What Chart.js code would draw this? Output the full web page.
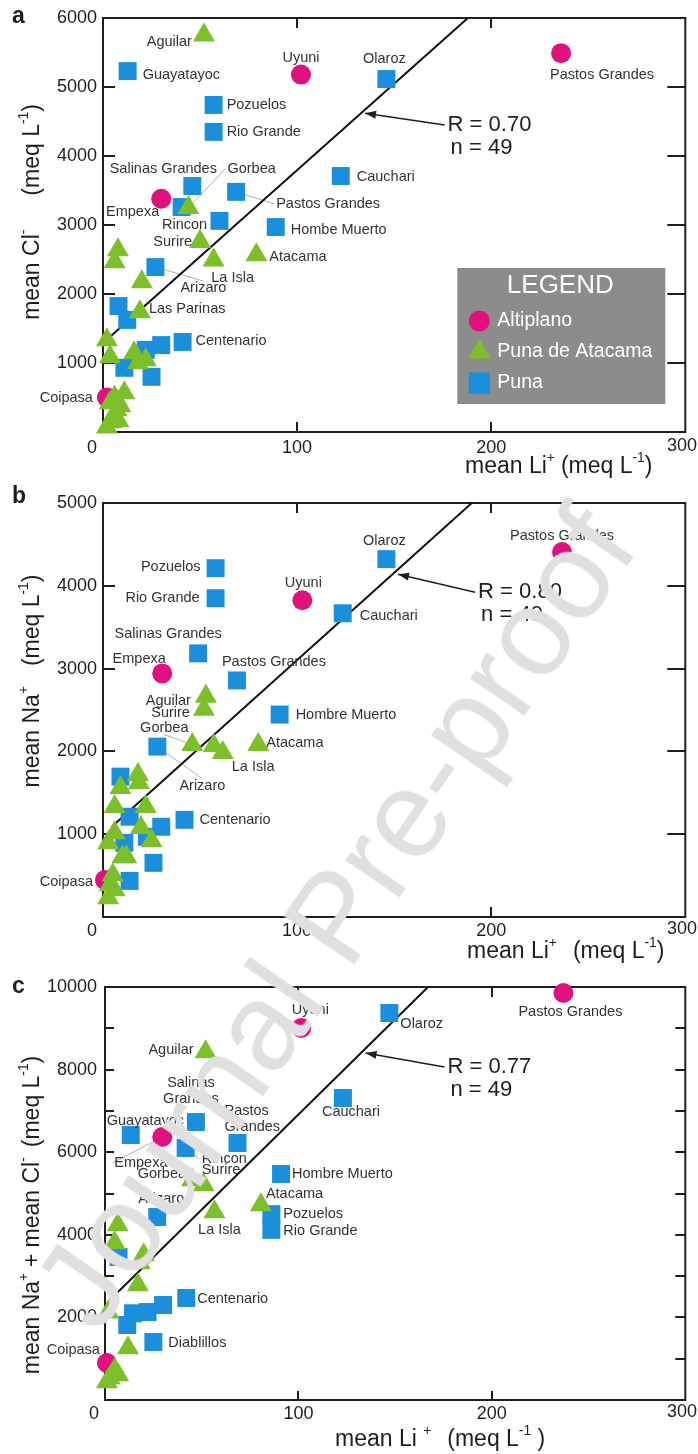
<!DOCTYPE html>
<html lang="en">
<head>
<meta charset="UTF-8">
<title>Li vs Cl / Na / Na+Cl</title>
<script src="https://cdn.jsdelivr.net/npm/chart.js"></script>
<style>
  html, body { margin: 0; padding: 0; background: #fff; }
  body { width: 698px; height: 1454px; position: relative; overflow: hidden; }
  canvas { position: absolute; left: 0; }
  #wm {
    position: absolute; left: 334px; top: 917px;
    transform: translate(-50%, -50%) rotate(-55.5deg);
    font: 124px 'Liberation Sans', Arial, sans-serif; line-height: 1;
    color: #e0e0e0; white-space: nowrap; pointer-events: none;
  }
</style>
</head>
<body>
<canvas id="chartA" width="698" height="480" style="top:0"></canvas>
<canvas id="chartB" width="698" height="490" style="top:480px"></canvas>
<canvas id="chartC" width="698" height="484" style="top:970px"></canvas>
<div id="wm">Journal Pre-proof</div>

<script>
// ---- values ----
// a) mean Cl- vs mean Li+
const altiNamesA = ['Uyuni', 'Empexa', 'Pastos Grandes', 'Coipasa'];
const altiLiA = [102, 30, 236, 2];
const altiClA = [5180, 3380, 5490, 500];

const punaNamesA = ['Guayatayoc', 'Pozuelos', 'Rio Grande', 'Salinas Grandes', 'Rincon', 'Pastos Grandes', '', 'Hombe Muerto', 'Cauchari', 'Olaroz', 'Arizaro', '', '', 'Centenario', '', '', '', ''];
const punaLiA = [12.7, 57, 57, 46, 40.5, 68.6, 60, 89, 122.5, 146, 27, 8, 12.5, 41, 30, 22, 11, 25];
const punaClA = [5230, 4740, 4350, 3565, 3260, 3480, 3060, 2970, 3710, 5115, 2390, 1825, 1625, 1305, 1260, 1190, 930, 800];

const atacNamesA = ['Aguilar', 'Gorbea', 'Surire', 'La Isla', 'Atacama', '', '', '', 'Las Parinas', '', '', '', '', '', '', '', '', '', '', '', '', '', ''];
const atacLiA = [52, 44, 50, 57, 79, 7.7, 6, 20, 19, 2, 3.6, 16, 22, 18, 11, 3.5, 7, 5, 2, 6, 9, 4, 8];
const atacClA = [5750, 3250, 2760, 2490, 2565, 2640, 2465, 2175, 1740, 1335, 1090, 1145, 1045, 1000, 565, 420, 320, 215, 70, 505, 380, 150, 160];

const fitLiA = [3.5, 188];
const fitClA = [1377, 6000];
const statsA = ['R = 0.70', 'n = 49'];

// b) mean Na+ vs mean Li+
const altiNamesB = ['Uyuni', 'Empexa', 'Pastos Grandes', 'Coipasa'];
const altiLiB = [102.7, 30.5, 236.5, 1];
const altiNaB = [3826, 2942, 4407, 448];

const punaNamesB = ['Pozuelos', 'Rio Grande', 'Salinas Grandes', 'Pastos Grandes', 'Hombre Muerto', 'Olaroz', 'Cauchari', 'Arizaro', '', '', 'Centenario', '', '', '', '', ''];
const punaLiB = [58, 58, 49, 69, 91, 146, 123.5, 28, 9, 13.7, 42, 30, 22.6, 11, 26, 13.7];
const punaNaB = [4213, 3850, 3184, 2857, 2445, 4322, 3668, 2058, 1695, 1211, 1174, 1090, 969, 896, 654, 436];

const atacNamesB = ['Aguilar', 'Surire', 'Gorbea', '', 'La Isla', 'Atacama', '', '', '', '', '', '', '', '', '', '', '', '', '', '', ''];
const atacLiB = [53, 52, 46, 57, 61.7, 80, 18, 18.5, 9, 6, 22, 6, 19.5, 2.7, 25, 10, 12, 3.5, 6, 2.7, 5];
const atacNaB = [2663, 2506, 2082, 2070, 1985, 2082, 1719, 1622, 1562, 1332, 1332, 1017, 1078, 896, 920, 726, 726, 387, 327, 230, 508];

const fitLiB = [4.5, 190];
const fitNaB = [1090, 5000];
const statsB = ['R = 0.80', 'n = 49'];

// c) mean Na+ + mean Cl- vs mean Li+
const altiNamesC = ['Uyuni', 'Empexa', 'Pastos Grandes', 'Coipasa'];
const altiLiC = [101.5, 29.6, 237, 1];
const altiSumC = [9007, 6368, 9855, 896];

const punaNamesC = ['Olaroz', 'Cauchari', 'Guayatayoc', 'Salinas Grandes', 'Rincon', 'Pastos Grandes', 'Hombre Muerto', 'Pozuelos', 'Rio Grande', 'Arizaro', '', 'Centenario', '', '', '', '', 'Diablillos'];
const punaLiC = [147, 123, 13.3, 47, 41.7, 68.5, 91, 86, 86, 27, 7, 42, 30, 22, 14.5, 11.5, 25];
const punaSumC = [9370, 7312, 6416, 6731, 6102, 6223, 5472, 4500, 4120, 4431, 3462, 2470, 2300, 2130, 2100, 1816, 1404];

const atacNamesC = ['Aguilar', 'Gorbea', 'Surire', 'La Isla', 'Atacama', '', '', '', '', '', '', '', '', '', '', ''];
const atacLiC = [52, 45, 51, 56.6, 80.6, 6.6, 5, 20, 18, 17, 1.7, 11.9, 5, 2.5, 6.8, 1];
const atacSumC = [8426, 5327, 5206, 4552, 4722, 4237, 3801, 3511, 3317, 2784, 2130, 1259, 726, 533, 605, 436];

const fitLiC = [2.5, 167];
const fitSumC = [2421, 10000];
const statsC = ['R = 0.77', 'n = 49'];

const liTickStep = 100;
const ionTickStep = 1000;

// ---- label placement: [dx, dy, align, leader line, wrap] in px from the marker ----
const labelsA = {
  'alti:Uyuni': [0, -17, 'center'],
  'alti:Empexa': [-2, 13, 'right'],
  'alti:Pastos Grandes': [41, 22, 'center'],
  'alti:Coipasa': [-14, 0, 'right'],
  'puna:Guayatayoc': [15, 4, 'left'],
  'puna:Pozuelos': [13, 0, 'left'],
  'puna:Rio Grande': [13, 0, 'left'],
  'puna:Salinas Grandes': [-29, -17, 'center'],
  'puna:Rincon': [3, 18, 'center'],
  'puna:Pastos Grandes': [40, 12, 'left', 1],
  'puna:Hombe Muerto': [15, 3, 'left'],
  'puna:Cauchari': [16, 1, 'left'],
  'puna:Olaroz': [-2, -20, 'center'],
  'puna:Arizaro': [48, 21, 'center', 1],
  'puna:Centenario': [13, -1, 'left'],
  'atac:Aguilar': [-12, 7, 'right'],
  'atac:Gorbea': [39, -39, 'left', 1],
  'atac:Surire': [-8, 0, 'right'],
  'atac:La Isla': [19, 18, 'center'],
  'atac:Atacama': [13, 2, 'left'],
  'atac:Las Parinas': [9, -3, 'left']
};
const labelsB = {
  'alti:Uyuni': [1, -17, 'center'],
  'alti:Empexa': [-23, -14, 'center'],
  'alti:Pastos Grandes': [0, -16, 'center'],
  'alti:Coipasa': [-12, 2, 'right'],
  'puna:Pozuelos': [-15, -1, 'right'],
  'puna:Rio Grande': [-16, 0, 'right'],
  'puna:Salinas Grandes': [-30, -19, 'center'],
  'puna:Pastos Grandes': [37, -18, 'center'],
  'puna:Hombre Muerto': [16, 0, 'left'],
  'puna:Olaroz': [-2, -18, 'center'],
  'puna:Cauchari': [17, 3, 'left'],
  'puna:Arizaro': [45, 39, 'center', 1],
  'puna:Centenario': [15, 0, 'left'],
  'atac:Aguilar': [-15, 4, 'right'],
  'atac:Surire': [-14, 3, 'right'],
  'atac:Gorbea': [-28, -17, 'center', 1],
  'atac:La Isla': [9, 14, 'left'],
  'atac:Atacama': [8, -2, 'left']
};
const labelsC = {
  'alti:Uyuni': [9, -18, 'center'],
  'alti:Empexa': [-48, 26, 'left', 1],
  'alti:Pastos Grandes': [7, 19, 'center'],
  'alti:Coipasa': [-7, -13, 'right'],
  'puna:Olaroz': [11, 11, 'left'],
  'puna:Cauchari': [8, 14, 'center'],
  'puna:Guayatayoc': [-24, -14, 'left'],
  'puna:Salinas Grandes': [-5, -39, 'center', 0, 1],
  'puna:Rincon': [16, 11, 'left', 1],
  'puna:Pastos Grandes': [-13, -32, 'left', 0, 1],
  'puna:Hombre Muerto': [11, 0, 'left'],
  'puna:Pozuelos': [12, 0, 'left'],
  'puna:Rio Grande': [12, 1, 'left'],
  'puna:Arizaro': [4, -18, 'center'],
  'puna:Centenario': [11, 1, 'left'],
  'puna:Diablillos': [15, 1, 'left'],
  'atac:Aguilar': [-12, -2, 'right'],
  'atac:Gorbea': [-6, -6, 'right'],
  'atac:Surire': [-2, -15, 'left'],
  'atac:La Isla': [5, 18, 'center'],
  'atac:Atacama': [5, -11, 'left']
};

const FONT = "'Liberation Sans', Arial, Helvetica, sans-serif";
const INK = '#1e1e1e';
const PINK = '#e0117f', GREEN = '#7dbf2b', BLUE = '#1b8fdb';

Chart.defaults.font.family = FONT;

// text with superscripts: strings normal, [str] superscript, numbers = gap in px
function rich(ctx, parts, x, y, size, measureOnly) {
  let cx = x;
  for (const p of parts) {
    if (typeof p === 'number') { cx += p; continue; }
    const sup = Array.isArray(p);
    const t = sup ? p[0] : p;
    ctx.font = (sup ? size * 0.6 : size) + 'px ' + FONT;
    if (!measureOnly) ctx.fillText(t, cx, sup ? y - size * 0.4 : y);
    cx += ctx.measureText(t).width;
  }
  return cx - x;
}

function marker(ctx, style, x, y, r, color) {
  ctx.fillStyle = color;
  ctx.beginPath();
  if (style === 'circle') ctx.arc(x, y, r, 0, Math.PI * 2);
  else if (style === 'triangle') {
    ctx.moveTo(x, y - r); ctx.lineTo(x + r * 0.866, y + r / 2); ctx.lineTo(x - r * 0.866, y + r / 2); ctx.closePath();
  } else { const h = r * Math.SQRT1_2; ctx.rect(x - h, y - h, 2 * h, 2 * h); }
  ctx.fill();
}

function labelAnchor(el, pos) {
  const [dx, dy, align] = pos;
  const lx = el.x + dx, ly = el.y + dy;
  if (align === 'left') return [lx - 2, ly];
  if (align === 'right') return [lx + 2, ly];
  return [lx, ly + (dy > 0 ? -7 : 7)];
}

function panelPlugins(p) {
  const tl = p.tickLen;
  const frame = {
    id: 'frame',
    beforeDatasetsDraw(chart) {
      const {ctx, chartArea: a} = chart;
      const xs = chart.scales.x, ys = chart.scales.y;
      ctx.save();
      ctx.strokeStyle = INK; ctx.lineWidth = 2;
      ctx.strokeRect(a.left, a.top, a.right - a.left, a.bottom - a.top);
      ctx.beginPath();
      ys.ticks.forEach(t => {
        if (t.value <= ys.min || t.value >= ys.max) return;
        const py = Math.round(ys.getPixelForValue(t.value));
        ctx.moveTo(a.left, py); ctx.lineTo(a.left + tl.left, py);
        ctx.moveTo(a.right, py); ctx.lineTo(a.right - tl.right, py);
      });
      xs.ticks.forEach(t => {
        if (t.value <= xs.min || t.value >= xs.max) return;
        const px = Math.round(xs.getPixelForValue(t.value));
        ctx.moveTo(px, a.bottom); ctx.lineTo(px, a.bottom - tl.bottom);
        ctx.moveTo(px, a.top); ctx.lineTo(px, a.top + tl.top);
      });
      ctx.stroke();

      // x tick labels (0 sits in the corner, 300 kept inside the page)
      ctx.fillStyle = INK; ctx.font = '18px ' + FONT; ctx.textBaseline = 'middle';
      xs.ticks.forEach(t => {
        const px = xs.getPixelForValue(t.value);
        const s = String(t.value);
        const ty = a.bottom + p.xLabelDy;
        if (t.value === xs.min) { ctx.textAlign = 'right'; ctx.fillText(s, px - 6, ty); }
        else if (t.value === xs.max) { ctx.textAlign = 'right'; ctx.fillText(s, chart.width - 1, ty - 2); }
        else { ctx.textAlign = 'center'; ctx.fillText(s, px, ty); }
      });

      // thin leader lines, under the markers
      ctx.strokeStyle = '#9a9a9a'; ctx.lineWidth = 0.8;
      chart.data.datasets.forEach((ds, i) => {
        if (!ds.names) return;
        const meta = chart.getDatasetMeta(i);
        ds.names.forEach((name, j) => {
          const pos = p.labels[ds.key + ':' + name];
          if (!name || !pos || !pos[3]) return;
          const el = meta.data[j];
          const [ax, ay] = labelAnchor(el, pos);
          ctx.beginPath(); ctx.moveTo(el.x, el.y); ctx.lineTo(ax, ay); ctx.stroke();
        });
      });
      ctx.restore();
    },
    afterDatasetsDraw(chart) {
      const {ctx} = chart;
      ctx.save();
      ctx.font = '14.5px ' + FONT; ctx.fillStyle = '#333'; ctx.textBaseline = 'middle';
      chart.data.datasets.forEach((ds, i) => {
        if (!ds.names) return;
        const meta = chart.getDatasetMeta(i);
        ds.names.forEach((name, j) => {
          const pos = p.labels[ds.key + ':' + name];
          if (!name || !pos) return;
          const el = meta.data[j];
          const [dx, dy, align, , wrap] = pos;
          ctx.textAlign = align;
          const lines = wrap ? name.split(' ') : [name];
          lines.forEach((t, k) => ctx.fillText(t, el.x + dx, el.y + dy + k * 16));
        });
      });
      ctx.restore();
    }
  };

  const decor = {
    id: 'decor',
    afterDraw(chart) {
      const {ctx} = chart;
      const xs = chart.scales.x, ys = chart.scales.y;
      ctx.save();
      ctx.fillStyle = INK; ctx.textBaseline = 'middle'; ctx.textAlign = 'left';
      // panel letter
      ctx.font = 'bold 23px ' + FONT;
      ctx.fillText(p.letter, 12, 17);
      // axis titles
      rich(ctx, p.xTitle, p.xTitlePos[0], p.xTitlePos[1], 23);
      const w = rich(ctx, p.yTitle, 0, 0, 23, true);
      ctx.save();
      ctx.translate(p.yTitlePos[0], p.yTitlePos[1]);
      ctx.rotate(-Math.PI / 2);
      rich(ctx, p.yTitle, -w / 2, 0, 23);
      ctx.restore();
      // regression stats with arrow to the line
      const tipX = xs.getPixelForValue(p.arrow.tip[0]), tipY = ys.getPixelForValue(p.arrow.tip[1]);
      const tailX = xs.getPixelForValue(p.arrow.tail[0]), tailY = ys.getPixelForValue(p.arrow.tail[1]);
      ctx.strokeStyle = INK; ctx.lineWidth = 1.5;
      ctx.beginPath(); ctx.moveTo(tailX, tailY); ctx.lineTo(tipX, tipY); ctx.stroke();
      const ang = Math.atan2(tipY - tailY, tipX - tailX);
      ctx.beginPath();
      ctx.moveTo(tipX, tipY);
      ctx.lineTo(tipX - 11 * Math.cos(ang) + 4 * Math.sin(ang), tipY - 11 * Math.sin(ang) - 4 * Math.cos(ang));
      ctx.lineTo(tipX - 11 * Math.cos(ang) - 4 * Math.sin(ang), tipY - 11 * Math.sin(ang) + 4 * Math.cos(ang));
      ctx.closePath(); ctx.fill();
      ctx.font = '22px ' + FONT;
      ctx.fillText(p.stats[0], tailX + 3, tailY);
      ctx.fillText(p.stats[1], tailX + 6, tailY + 23);
      ctx.restore();
    }
  };
  return [frame, decor];
}

const boxLegend = {
  id: 'boxLegend',
  afterDraw(chart) {
    const {ctx, chartArea: a} = chart;
    const left = a.right - 228, top = a.bottom - 164;
    ctx.save();
    ctx.fillStyle = '#8c8c8c';
    ctx.fillRect(left, top, 208, 136);
    ctx.fillStyle = '#fff'; ctx.textBaseline = 'middle'; ctx.textAlign = 'center';
    ctx.font = '26px ' + FONT;
    ctx.fillText('LEGEND', left + 103, top + 18);
    const sizes = {circle: 10.5, triangle: 13, rect: 15};
    chart.data.datasets.filter(d => d.label).forEach((d, i) => {
      const y = top + 53 + i * 31;
      marker(ctx, d.pointStyle, left + 22, y, sizes[d.pointStyle], d.backgroundColor);
      ctx.fillStyle = '#fff'; ctx.textAlign = 'left'; ctx.font = '19.5px ' + FONT;
      ctx.fillText(d.label, left + 40, y);
    });
    ctx.restore();
  }
};

function makePanel(id, p) {
  const canvas = document.getElementById(id);
  const W = canvas.width, H = canvas.height;
  const sets = p.groups.map(g => ({
    label: g.label, key: g.key, names: g.names,
    data: g.x.map((v, i) => ({x: v, y: g.y[i]})),
    pointStyle: g.style, pointRadius: g.radius, pointHoverRadius: g.radius,
    backgroundColor: g.color, borderWidth: 0, order: g.order, clip: false
  }));
  sets.push({
    data: p.fit.x.map((v, i) => ({x: v, y: p.fit.y[i]})),
    showLine: true, borderColor: '#111', borderWidth: 2,
    pointRadius: 0, order: 9, clip: false
  });
  const plugins = panelPlugins(p);
  if (p.legend) plugins.push(boxLegend);
  new Chart(canvas, {
    type: 'scatter',
    data: { datasets: sets },
    options: {
      responsive: false,
      animation: false,
      devicePixelRatio: 1,
      events: [],
      layout: { padding: { left: 0, top: p.area.top, right: W - p.area.right, bottom: 0 } },
      scales: {
        x: {
          type: 'linear', min: 0, max: 300,
          ticks: { display: false, stepSize: liTickStep },
          grid: { display: false, drawTicks: false },
          border: { display: false },
          afterFit: s => { s.height = H - p.area.bottom; s.paddingLeft = 0; s.paddingRight = 0; }
        },
        y: {
          type: 'linear', min: 0, max: p.yMax,
          ticks: {
            stepSize: ionTickStep, padding: p.yPad, color: INK,
            font: { family: FONT, size: 18 },
            callback: v => (v > 0 && v % p.yLabelEvery === 0) ? String(v) : ''
          },
          grid: { display: false, drawTicks: false },
          border: { display: false },
          afterFit: s => { s.width = p.area.left; s.paddingTop = 0; s.paddingBottom = 0; }
        }
      },
      plugins: { legend: { display: false }, tooltip: { enabled: false } }
    },
    plugins
  });
}

const groupStyle = {
  alti: { label: 'Altiplano', style: 'circle', radius: 10, color: PINK, order: 3 },
  atac: { label: 'Puna de Atacama', style: 'triangle', radius: 12.7, color: GREEN, order: 1 },
  puna: { label: 'Puna', style: 'rect', radius: 12.7, color: BLUE, order: 2 }
};
function group(key, names, x, y) {
  return Object.assign({ key, names, x, y }, groupStyle[key]);
}

makePanel('chartA', {
  letter: 'a', legend: true, yMax: 6000, yLabelEvery: 1000, yPad: 6,
  area: { left: 103, top: 18, right: 693, bottom: 432 },
  tickLen: { left: 12, right: 18, top: 10, bottom: 10 },
  xLabelDy: 16,
  groups: [
    group('alti', altiNamesA, altiLiA, altiClA),
    group('atac', atacNamesA, atacLiA, atacClA),
    group('puna', punaNamesA, punaLiA, punaClA)
  ],
  fit: { x: fitLiA, y: fitClA },
  labels: labelsA,
  stats: statsA,
  arrow: { tip: [135, 4620], tail: [176, 4450] },
  xTitle: ['mean Li', ['+'], 6, '(meq L', ['-1'], ')'],
  xTitlePos: [465, 467],
  yTitle: ['mean Cl', ['-'], 34, '(meq L', ['-1'], ')'],
  yTitlePos: [33, 212]
});

makePanel('chartB', {
  letter: 'b', legend: false, yMax: 5000, yLabelEvery: 1000, yPad: 6,
  area: { left: 103, top: 23, right: 693, bottom: 437 },
  tickLen: { left: 12, right: 18, top: 10, bottom: 10 },
  xLabelDy: 14,
  groups: [
    group('alti', altiNamesB, altiLiB, altiNaB),
    group('atac', atacNamesB, atacLiB, atacNaB),
    group('puna', punaNamesB, punaLiB, punaNaB)
  ],
  fit: { x: fitLiB, y: fitNaB },
  labels: labelsB,
  stats: statsB,
  arrow: { tip: [152, 4140], tail: [191.7, 3922] },
  xTitle: ['mean Li', ['+'], 16, '(meq L', ['-1'], ')'],
  xTitlePos: [467, 472],
  yTitle: ['mean Na', ['+'], 20, '(meq L', ['-1'], ')'],
  yTitlePos: [33, 201]
});

makePanel('chartC', {
  letter: 'c', legend: false, yMax: 10000, yLabelEvery: 2000, yPad: 8,
  area: { left: 105, top: 17, right: 693, bottom: 430 },
  tickLen: { left: 9, right: 10, top: 10, bottom: 9 },
  xLabelDy: 14,
  groups: [
    group('alti', altiNamesC, altiLiC, altiSumC),
    group('atac', atacNamesC, atacLiC, atacSumC),
    group('puna', punaNamesC, punaLiC, punaSumC)
  ],
  fit: { x: fitLiC, y: fitSumC },
  labels: labelsC,
  stats: statsC,
  arrow: { tip: [134.7, 8402], tail: [175.5, 8063] },
  xTitle: ['mean Li ', ['+'], 16, '(meq L', ['-1'], ' )'],
  xTitlePos: [335, 470],
  yTitle: ['mean Na', ['+'], 6, '+', 6, 'mean Cl', ['-'], 10, '(meq L', ['-1'], ')'],
  yTitlePos: [33, 245]
});
</script>
</body>
</html>
